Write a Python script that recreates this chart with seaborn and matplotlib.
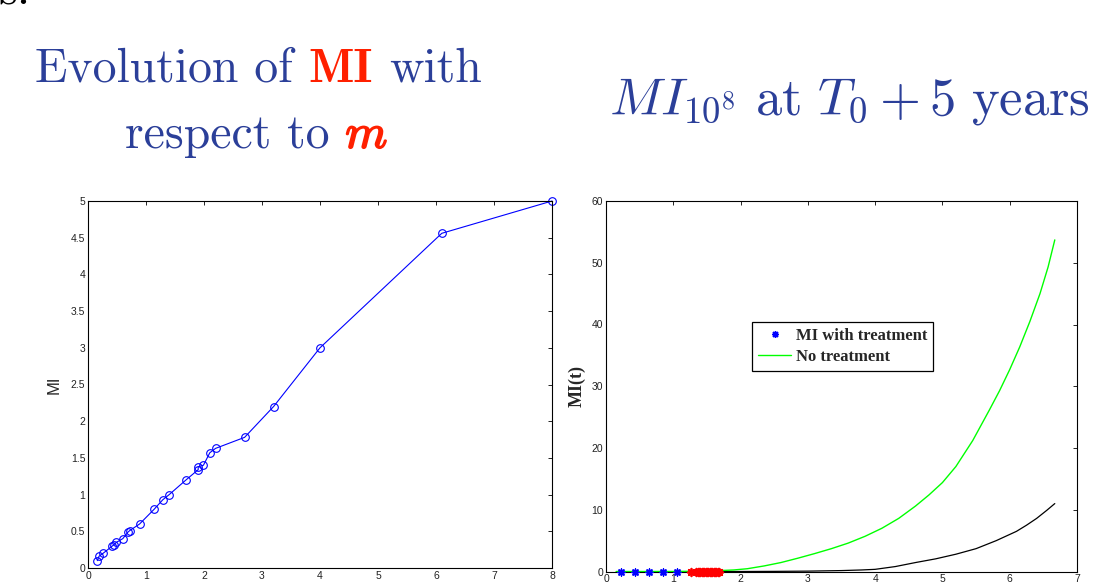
import matplotlib
matplotlib.use("Agg")
import matplotlib.pyplot as plt
import seaborn as sns
from matplotlib.lines import Line2D
from matplotlib import patheffects
from matplotlib.ticker import FuncFormatter

# ---------------- data ----------------
m_values = [0.16, 0.19, 0.26, 0.42, 0.45, 0.49, 0.60, 0.69, 0.72, 0.89, 1.14, 1.29,
            1.40, 1.69, 1.90, 1.90, 1.99, 2.10, 2.20, 2.70, 3.20, 4.00, 6.10, 8.00]
mi_values = [0.10, 0.16, 0.20, 0.30, 0.32, 0.35, 0.40, 0.49, 0.51, 0.60, 0.80, 0.93,
             1.00, 1.20, 1.34, 1.38, 1.40, 1.57, 1.63, 1.78, 2.20, 3.00, 4.56, 5.00]

t_no_treat = [0.15, 0.6, 1.0, 1.4, 1.7, 1.9, 2.1, 2.35, 2.6, 2.85, 3.1, 3.35, 3.6, 3.85,
              4.1, 4.35, 4.6, 4.8, 5.0, 5.2, 5.45, 5.7, 5.85, 6.0, 6.15, 6.3, 6.45,
              6.57, 6.67]
mi_no_treat = [0.0, 0.0, 0.01, 0.05, 0.15, 0.25, 0.45, 0.9, 1.45, 2.15, 2.9, 3.7, 4.6, 5.7,
               7.0, 8.6, 10.6, 12.4, 14.4, 17.0, 21.2, 26.2, 29.3, 32.7, 36.4, 40.5, 45.0,
               49.3, 53.7]

t_after = [1.68, 2.0, 2.5, 3.0, 3.5, 3.8, 4.0, 4.3, 4.6, 4.9, 5.2, 5.5, 5.8, 6.1, 6.25,
           6.4, 6.55, 6.67]
mi_after = [0.0, 0.0, 0.02, 0.06, 0.15, 0.25, 0.35, 0.8, 1.45, 2.05, 2.8, 3.7, 5.0, 6.5,
            7.5, 8.6, 9.9, 11.0]

t_treat_blue = [0.22, 0.43, 0.64, 0.85, 1.06]
mi_treat_blue = [0, 0, 0, 0, 0]
t_treat_red = [1.26, 1.34, 1.36, 1.38, 1.40, 1.42, 1.44, 1.46, 1.48, 1.50, 1.52, 1.54,
               1.56, 1.58, 1.60, 1.62, 1.64, 1.66, 1.68]
mi_treat_red = [0] * len(t_treat_red)

left_yticks = [0, 0.5, 1, 1.5, 2, 2.5, 3, 3.5, 4, 4.5, 5]
left_xticks = [0, 1, 2, 3, 4, 5, 6, 7, 8]
right_yticks = [0, 10, 20, 30, 40, 50, 60]
right_xticks = [0, 1, 2, 3, 4, 5, 6, 7]

legend_labels = ["MI with treatment", "No treatment"]

# ---------------- style ----------------
sns.set_style("white")
plt.rcParams['mathtext.fontset'] = 'cm'
plt.rcParams['font.family'] = ['Liberation Sans', 'DejaVu Sans']

W, H = 1094, 583
fig = plt.figure(figsize=(W / 100, H / 100), dpi=100)


def fx(px):
    return px / W


def fy(py):
    return 1 - py / H


ax1 = fig.add_axes([fx(88), fy(568), (552 - 88) / W, (568 - 201) / H])
ax2 = fig.add_axes([fx(606), fy(571.5), (1077 - 606) / W, (571.5 - 201) / H])

sns.lineplot(x=m_values, y=mi_values, ax=ax1, estimator=None, sort=False,
             color='blue', lw=0.8, marker='o', markersize=5.5,
             markerfacecolor='none', markeredgecolor='blue', markeredgewidth=0.8,
             clip_on=False)

sns.lineplot(x=t_after, y=mi_after, ax=ax2, estimator=None, sort=False,
             color='black', lw=0.9)
sns.lineplot(x=t_no_treat, y=mi_no_treat, ax=ax2, estimator=None, sort=False,
             color='#00ff00', lw=1.0)
sns.scatterplot(x=t_treat_blue, y=mi_treat_blue, ax=ax2, marker=(8, 2, 0),
                color='blue', s=24, linewidth=1.1, zorder=5, clip_on=False)
sns.scatterplot(x=t_treat_red, y=mi_treat_red, ax=ax2, marker=(8, 2, 0),
                color='red', s=30, linewidth=1.3, zorder=5, clip_on=False)


def style(ax, xt, yt):
    ax.set_xlim(xt[0], xt[-1])
    ax.set_ylim(yt[0], yt[-1])
    ax.set_xticks(xt)
    ax.set_yticks(yt)
    fmt = FuncFormatter(lambda v, p: f"{v:g}")
    ax.xaxis.set_major_formatter(fmt)
    ax.yaxis.set_major_formatter(fmt)
    ax.tick_params(direction='in', top=True, right=True, length=3, width=0.6,
                   labelsize=7.5, pad=2, labelcolor='#222222', color='black')
    for s in ax.spines.values():
        s.set_visible(True)
        s.set_linewidth(0.8)
        s.set_color('black')
    ax.set_xlabel('')


style(ax1, left_xticks, left_yticks)
style(ax2, right_xticks, right_yticks)

ax1.set_ylabel('MI', fontsize=12, family='Liberation Sans')
ax1.yaxis.set_label_coords(-0.057, 0.5)
ax2.set_ylabel('MI(t)', fontsize=13, fontweight='bold', family='Liberation Serif')
ax2.yaxis.set_label_coords(-0.0435, 0.5)

handles = [Line2D([], [], ls='none', marker=(8, 2, 0), color='blue', markersize=5, mew=1.0),
           Line2D([], [], color='#00ff00', lw=1.0)]
leg = ax2.legend(handles, legend_labels, loc='upper left',
                 bbox_to_anchor=(fx(752), fy(322)), bbox_transform=fig.transFigure,
                 prop={'family': 'Liberation Serif', 'weight': 'bold', 'size': 12},
                 frameon=True, fancybox=False, edgecolor='black', framealpha=1,
                 borderpad=0.35, handlelength=2.0, handletextpad=0.3,
                 labelspacing=0.3, borderaxespad=0)
leg.get_frame().set_linewidth(0.9)

# ---------------- titles ----------------
BLUE = '#2B3F99'
RED = '#FF2000'
renderer = fig.canvas.get_renderer()
roman = dict(family='cmr10', color=BLUE)
bold_red = dict(family='cmb10', color=RED)


def width_of(t):
    return t.get_window_extent(renderer).width


def space_width(size):
    a = fig.text(0, 0, "a a", family='cmr10', fontsize=size)
    b = fig.text(0, 0, "aa", family='cmr10', fontsize=size)
    w = width_of(a) - width_of(b)
    a.remove()
    b.remove()
    return w


def build_line(parts, y_base, size):
    texts = []
    for s, kw, extra in parts:
        t = fig.text(0, fy(y_base), s, fontsize=size, va='baseline', ha='left', **kw)
        if extra == 'stroke':
            t.set_path_effects([patheffects.withStroke(linewidth=1.3, foreground=kw['color'])])
        texts.append(t)
    return texts


def total_width(texts, size):
    return sum(width_of(t) for t in texts) + space_width(size) * (len(texts) - 1)


def place(texts, size, x_left=None, x_center=None):
    sp = space_width(size)
    tw = total_width(texts, size)
    x = x_left if x_left is not None else x_center - tw / 2
    for t in texts:
        t.set_x(fx(x))
        x += width_of(t) + sp


line1_parts = [("Evolution of", roman, None), ("MI", bold_red, None), ("with", roman, None)]
size0 = 38
l1 = build_line(line1_parts, 82, size0)
size = size0 * 447 / total_width(l1, size0)
for t in l1:
    t.set_fontsize(size)
place(l1, size, x_center=258.5)

line2_parts = [("respect to", roman, None), ("$m$", dict(color=RED), 'stroke')]
l2 = build_line(line2_parts, 148, size)
place(l2, size, x_center=256.5)

rt = fig.text(fx(609.4), fy(114.7),
              r"$MI_{10^8}\ \mathrm{at}\ T_0+5\ \mathrm{years}$",
              fontsize=38, va='baseline', ha='left', color=BLUE)
rsize = 38 * 481 / width_of(rt)
rt.set_fontsize(rsize)

fig.text(fx(31), fy(4), "s:", family='cmr10', fontsize=size, ha='right',
         va='baseline', color='black')

fig.savefig("out.png", dpi=100)
